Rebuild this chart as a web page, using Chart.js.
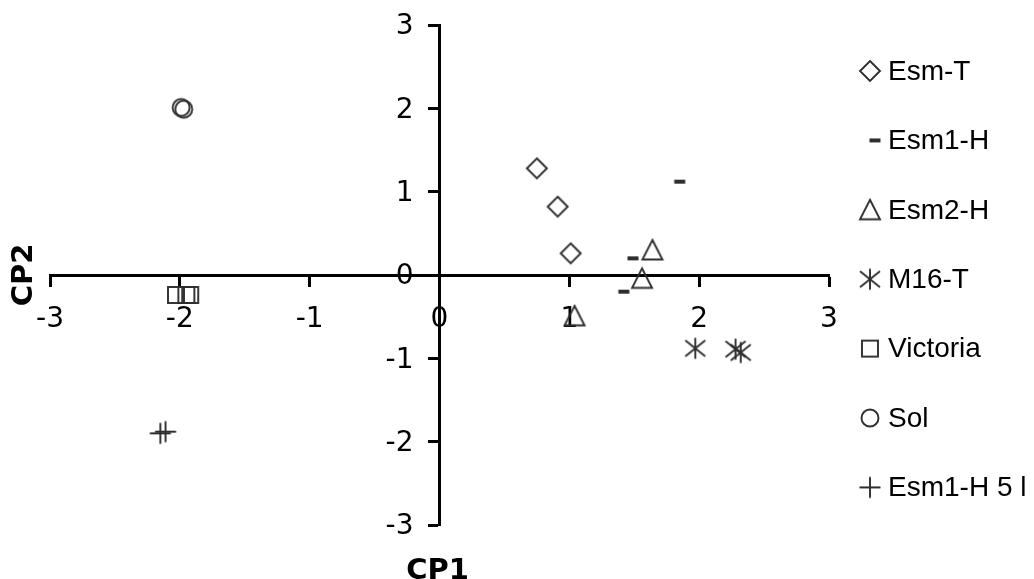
<!DOCTYPE html>
<html>
<head>
<meta charset="utf-8">
<title>CP1 / CP2</title>
<script src="https://cdn.jsdelivr.net/npm/chart.js@4.4.3/dist/chart.umd.min.js"></script>
<style>
  html, body { margin: 0; padding: 0; background: #fff; overflow: hidden; }
</style>
</head>
<body>
<canvas id="pcaChart" width="1034" height="579"></canvas>
<script>
// -----------------------------
// PCA scores: CP1 vs CP2
// -----------------------------

const axisTicks = [-3, -2, -1, 0, 1, 2, 3];
const seriesNames = ["Esm-T", "Esm1-H", "Esm2-H", "M16-T", "Victoria", "Sol", "Esm1-H 5 l"];

// [CP1, CP2] per sample
const esmT = [[0.75, 1.28], [0.91, 0.82], [1.01, 0.26]];
const esm1H = [[1.85, 1.12], [1.49, 0.20], [1.42, -0.20]];
const esm2H = [[1.64, 0.30], [1.56, -0.04], [1.04, -0.49]];
const m16T = [[1.97, -0.88], [2.28, -0.89], [2.32, -0.93]];
const victoria = [[-2.03, -0.24], [-1.95, -0.24], [-1.92, -0.24]];
const sol = [[-1.99, 2.01], [-1.97, 1.99]];
const esm1H5 = [[-2.15, -1.90], [-2.11, -1.88]];

const INK = "#2e2e2e";
const TICK_FONT = "28px 'DejaVu Sans', Verdana";

// Build a small canvas with one marker drawn in its middle
function markerCanvas(size, draw) {
    const c = document.createElement("canvas");
    c.width = size;
    c.height = size;
    const g = c.getContext("2d");
    g.translate(size / 2, size / 2);
    g.strokeStyle = INK;
    g.fillStyle = INK;
    g.lineWidth = 1.9;
    draw(g);
    return c;
}

const markers = [
    // diamond
    markerCanvas(26, g => {
        g.beginPath();
        g.moveTo(0, -10); g.lineTo(10, 0); g.lineTo(0, 10); g.lineTo(-10, 0);
        g.closePath();
        g.stroke();
    }),
    // short dash
    markerCanvas(26, g => {
        g.fillRect(-5.5, -2, 11, 4);
    }),
    // triangle
    markerCanvas(26, g => {
        g.beginPath();
        g.moveTo(0, -10); g.lineTo(10, 9.5); g.lineTo(-10, 9.5);
        g.closePath();
        g.stroke();
    }),
    // asterisk
    markerCanvas(26, g => {
        g.beginPath();
        g.moveTo(0, -10.5); g.lineTo(0, 10.5);
        g.moveTo(-10, -8); g.lineTo(10, 8);
        g.moveTo(-10, 8); g.lineTo(10, -8);
        g.stroke();
    }),
    // square
    markerCanvas(26, g => {
        g.strokeRect(-8, -8, 16, 16);
    }),
    // circle
    markerCanvas(26, g => {
        g.beginPath();
        g.arc(0, 0, 8.5, 0, Math.PI * 2);
        g.stroke();
    }),
    // plus
    markerCanvas(26, g => {
        g.beginPath();
        g.moveTo(0, -10.5); g.lineTo(0, 10.5);
        g.moveTo(-10.5, 0); g.lineTo(10.5, 0);
        g.stroke();
    })
];

const seriesPoints = [esmT, esm1H, esm2H, m16T, victoria, sol, esm1H5];

// y tick labels sit left of the crossing axis, axis titles, legend column
const titlesAndLegendPlugin = {
    id: "titlesAndLegend",
    afterDraw(chart) {
        const ctx = chart.ctx;
        const area = chart.chartArea;
        const xScale = chart.scales.x;
        const yScale = chart.scales.y;

        ctx.save();
        ctx.fillStyle = "#000";
        ctx.font = TICK_FONT;
        ctx.textAlign = "right";
        ctx.textBaseline = "middle";
        const labelX = xScale.getPixelForValue(0) - 26;
        axisTicks.forEach(v => {
            ctx.fillText(String(v), labelX, yScale.getPixelForValue(v) + 2);
        });
        ctx.restore();

        ctx.save();
        ctx.fillStyle = "#000";
        ctx.font = "bold 29px 'DejaVu Sans'";
        ctx.textAlign = "center";
        ctx.textBaseline = "top";
        ctx.fillText("CP1", (area.left + area.right) / 2 - 2, 557);

        ctx.translate(24, (area.top + area.bottom) / 2);
        ctx.rotate(-Math.PI / 2);
        ctx.textBaseline = "middle";
        ctx.fillText("CP2", 0, 0);
        ctx.restore();

        ctx.save();
        ctx.font = "28px 'Liberation Sans', Arial";
        ctx.fillStyle = "#000";
        ctx.textBaseline = "middle";
        ctx.textAlign = "left";
        chart.data.datasets.forEach((ds, i) => {
            const y = 71 + i * 69.4;
            const img = ds.pointStyle;
            const mx = i === 1 ? 875 : 870;
            ctx.drawImage(img, mx - img.width / 2, y - img.height / 2);
            ctx.fillText(ds.label, 888, y + 1);
        });
        ctx.restore();
    }
};

function axisOptions(crossAt, showLabels) {
    return {
        type: "linear",
        min: axisTicks[0],
        max: axisTicks[axisTicks.length - 1],
        position: crossAt,
        afterBuildTicks: scale => {
            scale.ticks = axisTicks.map(v => ({ value: v }));
        },
        // centred axes should not push the plot area inwards
        afterFit: scale => {
            scale.paddingTop = 0;
            scale.paddingBottom = 0;
            scale.paddingLeft = 0;
            scale.paddingRight = 0;
        },
        ticks: {
            display: showLabels,
            color: "#000",
            padding: 18,
            font: { family: "'DejaVu Sans', Verdana", size: 28 },
            callback: v => String(v)
        },
        grid: {
            drawOnChartArea: false,
            drawTicks: true,
            tickLength: 10,
            tickColor: "#000",
            tickWidth: 3
        },
        border: { display: true, color: "#000", width: 3 }
    };
}

new Chart(document.getElementById("pcaChart"), {
    type: "scatter",
    data: {
        datasets: seriesNames.map((name, i) => ({
            label: name,
            data: seriesPoints[i].map(([x, y]) => ({ x, y })),
            pointStyle: markers[i],
            pointRadius: 10,
            showLine: false
        }))
    },
    options: {
        responsive: false,
        animation: false,
        devicePixelRatio: 1,
        layout: { padding: { left: 50, right: 205, top: 25, bottom: 54 } },
        plugins: {
            legend: { display: false },
            tooltip: { enabled: false }
        },
        scales: {
            x: axisOptions({ y: 0 }, true),
            y: axisOptions({ x: 0 }, false)
        }
    },
    plugins: [titlesAndLegendPlugin]
});
</script>
</body>
</html>
